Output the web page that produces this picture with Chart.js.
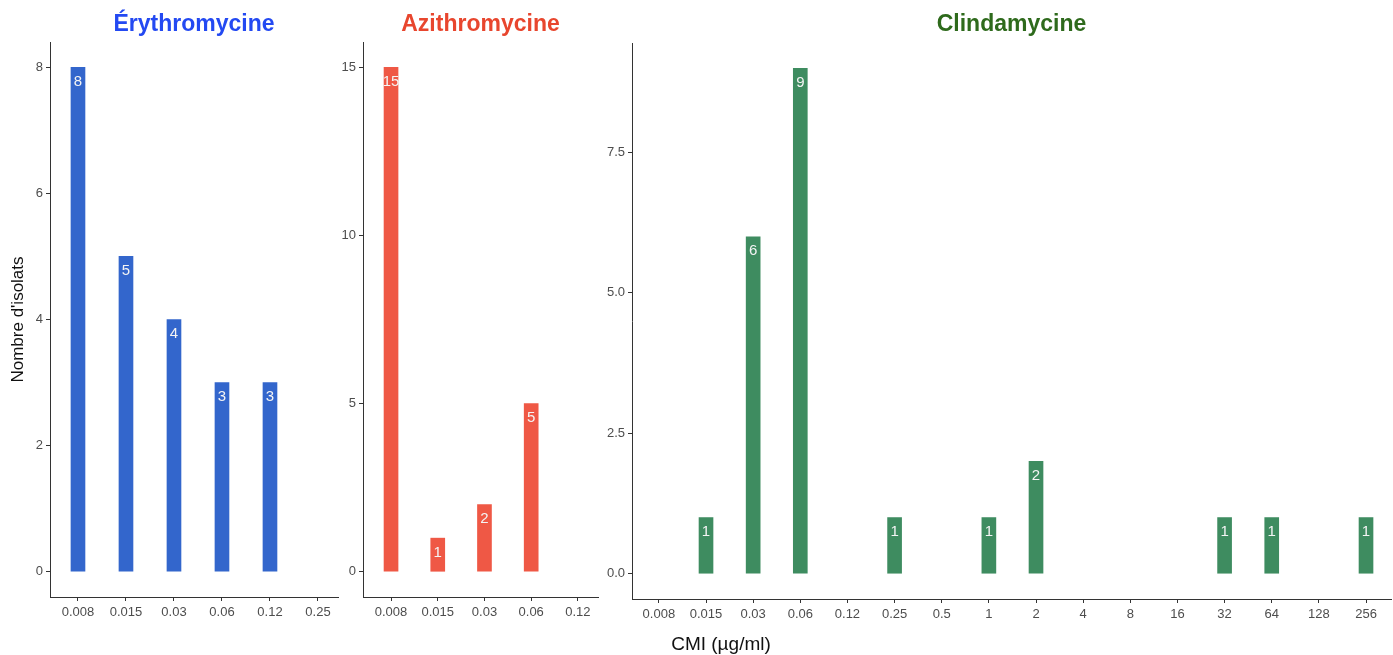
<!DOCTYPE html>
<html>
<head>
<meta charset="utf-8">
<script src="https://cdn.jsdelivr.net/npm/chart.js@4"></script>
<style>
  body { margin: 0; background: #fff; width: 1393px; height: 655px; overflow: hidden; position: relative;
         font-family: "Liberation Sans", Arial, sans-serif; }
  canvas { position: absolute; top: 0; }
  #xtitle { position: absolute; left: 0; width: 1442px; top: 633px; text-align: center; font-size: 19px; color: #111; }
</style>
</head>
<body>
<canvas id="ery" width="340" height="655" style="left:0"></canvas>
<canvas id="azi" width="260" height="655" style="left:340px"></canvas>
<canvas id="cli" width="793" height="655" style="left:600px"></canvas>
<div id="xtitle">CMI (µg/ml)</div>

<script>
// data
const eryLabels = ["0.008", "0.015", "0.03", "0.06", "0.12", "0.25"];
const eryCounts = [8, 5, 4, 3, 3, 0];
const eryTicks = [0, 2, 4, 6, 8];

const aziLabels = ["0.008", "0.015", "0.03", "0.06", "0.12"];
const aziCounts = [15, 1, 2, 5, 0];
const aziTicks = [0, 5, 10, 15];

const cliLabels = ["0.008", "0.015", "0.03", "0.06", "0.12", "0.25", "0.5", "1", "2", "4", "8", "16", "32", "64", "128", "256"];
const cliCounts = [0, 1, 6, 9, 0, 1, 0, 1, 2, 0, 0, 0, 1, 1, 0, 1];
const cliTicks = [0, 2.5, 5, 7.5];

const FONT = '"Liberation Sans", Arial, sans-serif';

// white count written inside the top of each bar
const barLabels = {
  id: "barLabels",
  afterDatasetsDraw(chart) {
    const ctx = chart.ctx;
    const meta = chart.getDatasetMeta(0);
    const vals = chart.data.datasets[0].data;
    ctx.save();
    ctx.fillStyle = "#f4f4f4";
    ctx.font = "15px " + FONT;
    ctx.textAlign = "center";
    ctx.textBaseline = "top";
    meta.data.forEach((bar, i) => {
      const v = vals[i].y;
      if (!v) return;
      ctx.fillText(String(v), bar.x, bar.y + 7);
    });
    ctx.restore();
  }
};

function makePanel(id, opts) {
  // empty classes get no bar at all
  const data = opts.counts.map((v, i) => ({ x: i, y: v === 0 ? null : v }));
  return new Chart(document.getElementById(id), {
    type: "bar",
    data: {
      datasets: [{
        data: data,
        backgroundColor: opts.color,
        borderWidth: 0,
        barThickness: 14
      }]
    },
    options: {
      responsive: false,
      animation: false,
      layout: { padding: { left: 0, right: 2, top: 0, bottom: 0 } },
      plugins: {
        legend: { display: false },
        tooltip: { enabled: false },
        title: {
          display: true,
          fullSize: false,
          text: opts.title,
          color: opts.titleColor,
          font: { family: FONT, size: 23, weight: "bold", lineHeight: 1 },
          padding: { top: 13, bottom: opts.titleGap }
        }
      },
      scales: {
        x: {
          type: "linear",
          min: opts.xMin,
          max: opts.xMax,
          offset: false,
          afterBuildTicks: (s) => { s.ticks = opts.labels.map((_, i) => ({ value: i })); },
          afterFit: (s) => { s.height = opts.xHeight; },
          ticks: {
            callback: (v) => opts.labels[v],
            autoSkip: false,
            maxRotation: 0,
            color: "#4d4d4d",
            font: { family: FONT, size: 13 },
            padding: 4
          },
          grid: { display: true, offset: false, drawOnChartArea: false, tickLength: 4, color: "#333" },
          border: { display: true, color: "#333", width: 1 }
        },
        y: {
          min: opts.yMin,
          max: opts.yMax,
          afterBuildTicks: (s) => { s.ticks = opts.yTicks.map((v) => ({ value: v })); },
          afterFit: (s) => { s.width = opts.yWidth; },
          ticks: {
            callback: (v) => opts.yFixed ? v.toFixed(1) : String(v),
            color: "#4d4d4d",
            font: { family: FONT, size: 13 },
            padding: 3
          },
          grid: { display: true, drawOnChartArea: false, tickLength: 4, color: "#333" },
          border: { display: true, color: "#333", width: 1 },
          title: opts.yTitle ? {
            display: true,
            text: opts.yTitle,
            color: "#111",
            font: { family: FONT, size: 17 },
            padding: { top: 8, bottom: 0 }
          } : { display: false }
        }
      }
    },
    plugins: [barLabels]
  });
}

makePanel("ery", {
  labels: eryLabels, counts: eryCounts, yTicks: eryTicks,
  color: "#3366cc", title: "Érythromycine", titleColor: "#2349f2", titleGap: 6,
  xMin: -0.583, xMax: 5.417, yMin: -0.4, yMax: 8.4,
  xHeight: 58, yWidth: 50, yTitle: "Nombre d'isolats"
});

makePanel("azi", {
  labels: aziLabels, counts: aziCounts, yTicks: aziTicks,
  color: "#ef5845", title: "Azithromycine", titleColor: "#e8462e", titleGap: 6,
  xMin: -0.6, xMax: 4.43, yMin: -0.75, yMax: 15.75,
  xHeight: 58, yWidth: 23
});

makePanel("cli", {
  labels: cliLabels, counts: cliCounts, yTicks: cliTicks, yFixed: true,
  color: "#3e8c60", title: "Clindamycine", titleColor: "#2e6a1c", titleGap: 7,
  xMin: -0.57, xMax: 15.53, yMin: -0.45, yMax: 9.45,
  xHeight: 56, yWidth: 32
});
</script>
</body>
</html>
